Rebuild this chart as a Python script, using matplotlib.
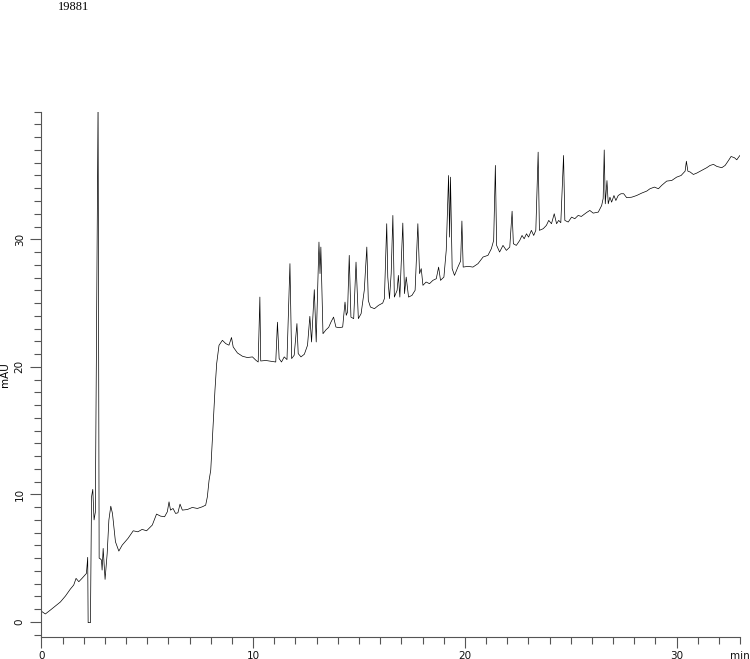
import numpy as np
import matplotlib
matplotlib.use("Agg")
import matplotlib.pyplot as plt
from matplotlib.ticker import MultipleLocator, FixedLocator

SAMPLE_ID = "19881"
Y_LABEL = "mAU"
X_MAJOR = [0, 10, 20, 30, 33]
X_MAJOR_LABELS = ["0", "10", "20", "30", "min"]
Y_MAJOR = [0, 10, 20, 30]

# retention time (min) and absorbance (mAU)
time_min = [
    0.00, 0.19, 0.43, 0.66, 0.90, 1.14, 1.37, 1.53, 1.64, 1.77, 1.92, 2.13,
    2.19, 2.21, 2.32, 2.37, 2.43, 2.49, 2.55, 2.68, 2.73, 2.76, 2.84, 2.87,
    2.92, 3.01, 3.11, 3.19, 3.28, 3.36, 3.50, 3.66, 3.82, 4.09, 4.34, 4.56,
    4.76, 4.97, 5.24, 5.44, 5.63, 5.82, 5.95, 6.03, 6.10, 6.22, 6.34, 6.45,
    6.55, 6.66, 6.90, 7.13, 7.37, 7.60, 7.76, 7.84, 7.92, 8.00, 8.20, 8.28,
    8.39, 8.55, 8.71, 8.86, 8.98, 9.06, 9.26, 9.50, 9.73, 9.97, 10.13, 10.24,
    10.32, 10.36, 10.60, 10.84, 11.07, 11.15, 11.23, 11.34, 11.47, 11.60,
    11.74, 11.82, 11.94, 12.07, 12.13, 12.26, 12.42, 12.57, 12.68, 12.76,
    12.89, 12.98, 13.11, 13.16, 13.20, 13.30, 13.44, 13.57, 13.68, 13.80,
    13.91, 14.07, 14.23, 14.34, 14.40, 14.46, 14.54, 14.62, 14.75, 14.86,
    14.97, 15.10, 15.25, 15.37, 15.44, 15.54, 15.73, 15.92, 16.12, 16.20,
    16.31, 16.36, 16.44, 16.52, 16.60, 16.67, 16.80, 16.86, 16.93, 17.07,
    17.15, 17.23, 17.34, 17.50, 17.65, 17.78, 17.86, 17.94, 18.02, 18.17,
    18.33, 18.49, 18.65, 18.76, 18.85, 19.01, 19.12, 19.23, 19.28, 19.32,
    19.40, 19.51, 19.67, 19.80, 19.86, 19.92, 20.15, 20.38, 20.62, 20.86,
    21.09, 21.25, 21.36, 21.44, 21.50, 21.64, 21.80, 21.96, 22.12, 22.23,
    22.29, 22.43, 22.59, 22.70, 22.80, 22.91, 23.01, 23.14, 23.25, 23.35,
    23.46, 23.52, 23.70, 23.85, 23.96, 24.09, 24.22, 24.33, 24.43, 24.53,
    24.66, 24.72, 24.88, 25.04, 25.19, 25.35, 25.50, 25.75, 25.90, 26.06,
    26.30, 26.46, 26.53, 26.58, 26.63, 26.71, 26.77, 26.85, 26.93, 27.04,
    27.13, 27.24, 27.37, 27.50, 27.64, 27.88, 28.11, 28.35, 28.59, 28.74,
    28.95, 29.14, 29.29, 29.53, 29.77, 30.00, 30.21, 30.40, 30.46, 30.53,
    30.64, 30.79, 30.95, 31.19, 31.42, 31.58, 31.74, 31.90, 32.13, 32.29,
    32.45, 32.57, 32.73, 32.84, 32.95, 33.08,
]
absorbance_mau = [
    0.85, 0.63, 0.94, 1.25, 1.57, 2.04, 2.58, 2.90, 3.42, 3.16, 3.42, 3.81,
    5.07, -0.05, -0.05, 9.80, 10.40, 8.00, 8.60, 41.0, 5.00, 4.99, 4.86, 4.07,
    5.77, 3.34, 5.38, 7.99, 9.08, 8.50, 6.29, 5.56, 6.03, 6.55, 7.15, 7.07,
    7.26, 7.15, 7.60, 8.46, 8.30, 8.25, 8.64, 9.42, 8.77, 8.90, 8.51, 8.56,
    9.24, 8.77, 8.82, 8.98, 8.90, 9.03, 9.16, 9.81, 11.10, 11.90, 18.20, 20.26,
    21.69, 22.08, 21.82, 21.70, 22.30, 21.56, 21.09, 20.83, 20.73, 20.78, 20.52, 20.38,
    25.47, 20.46, 20.50, 20.44, 20.38, 23.50, 20.65, 20.38, 20.78, 20.57,
    28.09, 20.65, 20.91, 23.39, 21.04, 20.78, 20.99, 21.69, 23.96, 21.95,
    26.05, 21.95, 29.78, 27.31, 29.39, 22.60, 22.90, 23.10, 23.52, 23.90,
    23.12, 23.07, 23.12, 25.08, 24.04, 24.30, 28.74, 23.90, 23.78, 28.21,
    23.78, 24.17, 26.00, 29.39, 25.20, 24.69, 24.56, 24.82, 25.00, 25.35,
    31.22, 27.04, 25.35, 27.31, 31.87, 25.47, 26.00, 27.17, 25.47, 31.27,
    25.74, 27.04, 25.47, 25.60, 26.00, 31.22, 27.31, 27.70, 26.39, 26.65,
    26.52, 26.78, 26.91, 27.82, 26.78, 27.04, 29.13, 35.00, 30.17, 34.87,
    27.70, 27.17, 27.82, 28.30, 31.43, 27.82, 27.88, 27.82, 28.09, 28.61,
    28.74, 29.26, 29.91, 35.79, 29.52, 29.00, 29.52, 29.13, 29.39, 32.20,
    29.65, 29.52, 29.91, 30.30, 30.04, 30.43, 30.17, 30.70, 30.30, 30.70,
    36.83, 30.70, 30.83, 31.09, 31.48, 31.22, 32.00, 31.22, 31.48, 31.30,
    36.57, 31.48, 31.35, 31.74, 31.61, 31.87, 31.79, 32.10, 32.26, 32.05,
    32.13, 32.65, 33.20, 37.00, 32.78, 34.60, 32.78, 33.30, 32.91, 33.43,
    33.04, 33.43, 33.57, 33.57, 33.26, 33.30, 33.43, 33.62, 33.78, 33.96,
    34.09, 33.96, 34.22, 34.56, 34.61, 34.87, 35.00, 35.34, 36.12, 35.34,
    35.27, 35.08, 35.19, 35.40, 35.61, 35.79, 35.87, 35.71, 35.61, 35.79,
    36.18, 36.49, 36.39, 36.23, 36.49, 36.75,
]

AXIS_COLOR = "#555555"

fig = plt.figure(figsize=(7.5, 6.59), dpi=100)
ax = fig.add_axes([0.0551, 0.0329, 0.9318, 0.7976])

ax.plot(time_min, absorbance_mau, color="black", lw=0.5)

ax.set_xlim(0, 33)
ax.set_ylim(-1.2, 40)

for side in ("top", "right"):
    ax.spines[side].set_visible(False)
for side in ("left", "bottom"):
    ax.spines[side].set_color(AXIS_COLOR)
    ax.spines[side].set_linewidth(0.8)

ax.xaxis.set_major_locator(FixedLocator(X_MAJOR))
ax.set_xticklabels(X_MAJOR_LABELS)
ax.xaxis.set_minor_locator(MultipleLocator(1))
ax.yaxis.set_major_locator(FixedLocator(Y_MAJOR))
ax.yaxis.set_minor_locator(MultipleLocator(1))

ax.tick_params(axis="both", which="both", color=AXIS_COLOR, width=0.8,
               labelsize=7.5, labelcolor="#111111")
ax.tick_params(axis="both", which="major", length=8)
ax.tick_params(axis="both", which="minor", length=5)
ax.tick_params(axis="x", which="major", pad=1.5)
ax.tick_params(axis="y", which="major", pad=4)
# the 33 min major tick looks like a minor one in the reference
ax.xaxis.get_major_ticks()[-1].tick1line.set_markersize(5)

for lbl in ax.get_yticklabels():
    lbl.set_rotation(90)
    lbl.set_va("center")

ax.set_ylabel(Y_LABEL, fontsize=7.5)
ax.yaxis.set_label_coords(-0.045, 0.5)

fig.text(58 / 750, 1 - 1 / 659, SAMPLE_ID, family="Liberation Serif",
         fontsize=9, ha="left", va="top")

fig.savefig("out.png", dpi=100)
